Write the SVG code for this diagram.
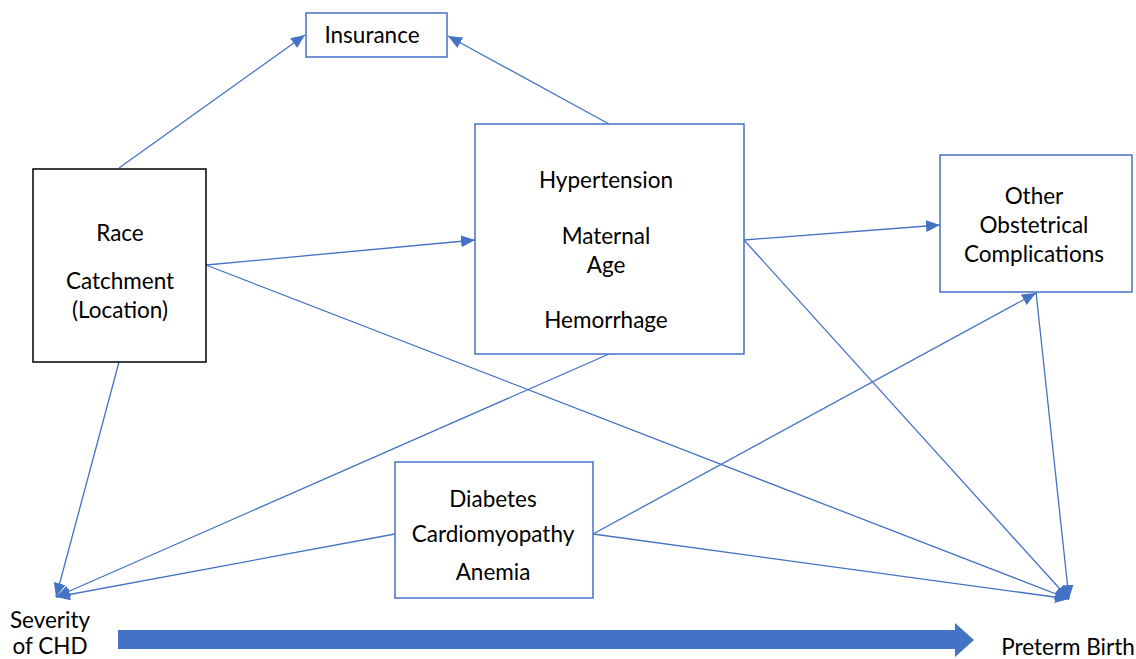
<svg xmlns="http://www.w3.org/2000/svg" width="1136" height="659" viewBox="0 0 1136 659">
<style>
.box{fill:#fff;stroke:#4472C4;stroke-width:1.5}
.boxk{fill:#fff;stroke:#000;stroke-width:1.5}
.t{font-family:Lato,"Open Sans",sans-serif;font-size:22.5px;fill:#000;text-anchor:middle}
.c{stroke:#4472C4;stroke-width:1.3;fill:none}
</style>
<defs>
<marker id="ah" markerUnits="userSpaceOnUse" markerWidth="16" markerHeight="14" refX="14" refY="6" orient="auto">
<path d="M0,0 L14,6 L0,12 Z" fill="#4472C4"/>
</marker>
</defs>
<rect width="1136" height="659" fill="#fff"/>
<g id="connectors">
<line class="c" x1="119" y1="168" x2="305" y2="35" marker-end="url(#ah)"/>
<line class="c" x1="609" y1="124" x2="448" y2="36" marker-end="url(#ah)"/>
<line class="c" x1="206" y1="265" x2="475" y2="240" marker-end="url(#ah)"/>
<line class="c" x1="206" y1="265" x2="1069" y2="599" marker-end="url(#ah)"/>
<line class="c" x1="119" y1="362" x2="56" y2="597" marker-end="url(#ah)"/>
<line class="c" x1="744" y1="240" x2="940" y2="225" marker-end="url(#ah)"/>
<line class="c" x1="744" y1="240" x2="1069" y2="599" marker-end="url(#ah)"/>
<line class="c" x1="609" y1="354" x2="56" y2="597" marker-end="url(#ah)"/>
<line class="c" x1="395" y1="534" x2="56" y2="597" marker-end="url(#ah)"/>
<line class="c" x1="593" y1="534" x2="1036" y2="293" marker-end="url(#ah)"/>
<line class="c" x1="593" y1="534" x2="1069" y2="599" marker-end="url(#ah)"/>
<line class="c" x1="1036" y1="292" x2="1069" y2="599" marker-end="url(#ah)"/>
<path d="M118,630 L955,630 L955,623 L974,640 L955,657 L955,649 L118,649 Z" fill="#4472C4"/>
</g>
<g id="insurance">
<rect class="box" x="306" y="13" width="141" height="44"/>
<text class="t" x="372" y="43">Insurance</text>
</g>
<g id="race">
<rect class="boxk" x="33" y="169" width="173" height="193"/>
<text class="t" x="120" y="241">Race</text>
<text class="t" x="120" y="289">Catchment</text>
<text class="t" x="120" y="318">(Location)</text>
</g>
<g id="hypertension">
<rect class="box" x="475" y="124" width="269" height="230"/>
<text class="t" x="606" y="188">Hypertension</text>
<text class="t" x="606" y="244">Maternal</text>
<text class="t" x="606" y="273">Age</text>
<text class="t" x="606" y="328">Hemorrhage</text>
</g>
<g id="other">
<rect class="box" x="940" y="155" width="192" height="137"/>
<text class="t" x="1034" y="204">Other</text>
<text class="t" x="1034" y="233">Obstetrical</text>
<text class="t" x="1034" y="262">Complications</text>
</g>
<g id="diabetes">
<rect class="box" x="395" y="462" width="198" height="136"/>
<text class="t" x="493" y="507">Diabetes</text>
<text class="t" x="493" y="542">Cardiomyopathy</text>
<text class="t" x="493" y="580">Anemia</text>
</g>
<g id="severity">
<text class="t" x="50" y="628">Severity</text>
<text class="t" x="50" y="654">of CHD</text>
</g>
<g id="preterm">
<text class="t" x="1068" y="655">Preterm Birth</text>
</g>
</svg>
